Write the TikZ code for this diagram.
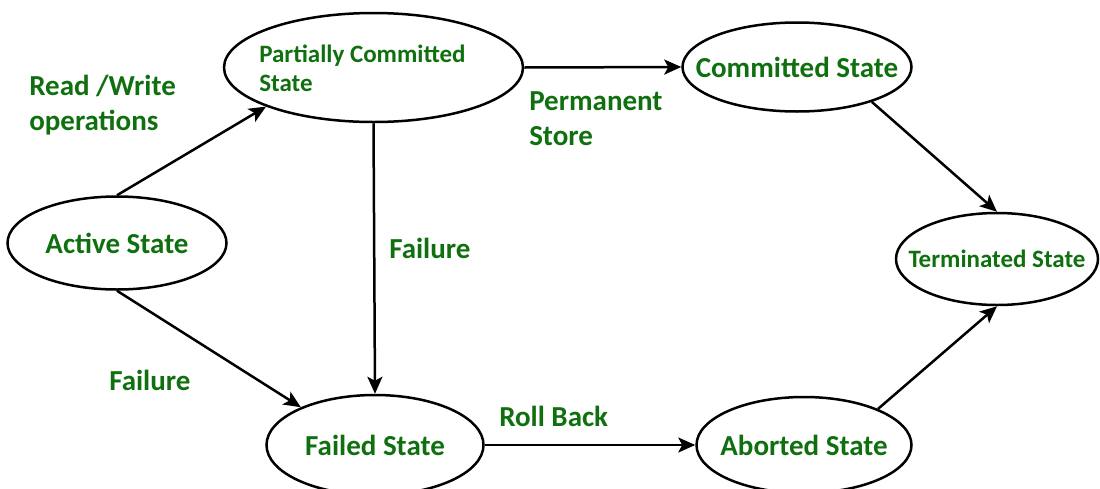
\documentclass[tikz,border=0pt]{standalone}
\usepackage{fontspec}
\setmainfont{Carlito}
\usetikzlibrary{shapes.geometric, arrows.meta, positioning}
\definecolor{labgreen}{RGB}{16,112,16}
\newcommand{\sttext}[1]{\makebox[0pt]{#1}}

\begin{document}
\begin{tikzpicture}[
  x=1pt, y=-1pt,
  line width=2.5pt,
  state/.style={ellipse, draw, inner sep=0pt, text=labgreen,
    font=\bfseries\fontsize{29}{35}\selectfont},
  small/.style={font=\bfseries\fontsize{25}{29}\selectfont},
  lbl/.style={anchor=west, inner sep=0pt, align=left, text=labgreen,
    font=\bfseries\fontsize{29}{35}\selectfont},
  >={Stealth[length=17pt, width=15pt, inset=4pt]}]

  \useasboundingbox (0,0) rectangle (1100,488);

  \node[state, minimum width=219pt, minimum height=93pt] (act) at (117,243) {\sttext{Active State}};
  \node[state, minimum width=299pt, minimum height=109pt] (pc) at (373.5,67.5) {};
  \node[lbl, small] (pctext) at (258,68) {Partially Committed\\State};
  \node[state, minimum width=229pt, minimum height=89pt] (com) at (797,67) {\sttext{Committed State}};
  \node[state, small, minimum width=202pt, minimum height=92pt] (term) at (997,259) {\sttext{Terminated State}};
  \node[state, minimum width=217pt, minimum height=100pt] (fail) at (375,445) {\sttext{Failed State}};
  \node[state, minimum width=215pt, minimum height=96pt] (abo) at (804,445) {\sttext{Aborted State}};

  \node[lbl] (rw) at (28,105.5) {Read /Write\\operations};
  \node[lbl] (perm) at (528,118.5) {Permanent\\Store};
  \node[lbl] (fail1) at (388,248) {Failure};
  \node[lbl] (fail2) at (108,380) {Failure};
  \node[lbl] (roll) at (498,416) {Roll Back};

  \draw[->] (act.north) -- (pc.200);
  \draw[->] (act.south) -- (fail.153);
  \draw[->] (pc.south) -- (fail.north);
  \draw[->] (pc.east) -- (com.west);
  \draw[->] (com.-25) -- (term.north);
  \draw[->] (fail.east) -- (abo.west);
  \draw[->] (abo.26) -- (term.south);
\end{tikzpicture}
\end{document}
